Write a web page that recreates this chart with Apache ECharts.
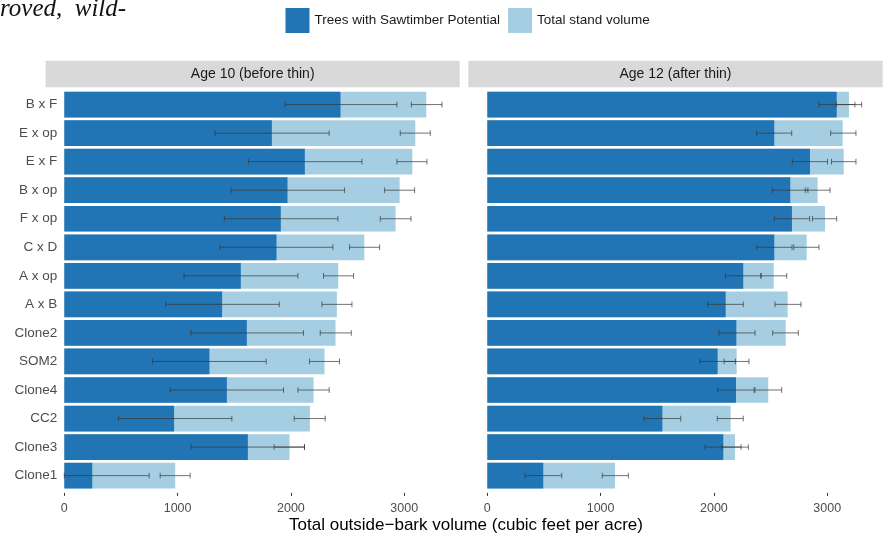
<!DOCTYPE html>
<html>
<head>
<meta charset="utf-8">
<script src="https://cdn.jsdelivr.net/npm/echarts@6/dist/echarts.min.js"></script>
<style>
  html, body { margin: 0; padding: 0; background: #fff; }
  #chart { width: 885px; height: 535px; }
</style>
</head>
<body>
<div id="chart"></div>
<script>
// Families, top to bottom
const categories = ['B x F', 'E x op', 'E x F', 'B x op', 'F x op', 'C x D', 'A x op', 'A x B',
  'Clone2', 'SOM2', 'Clone4', 'CC2', 'Clone3', 'Clone1'];

// Age 10 (before thin): sawtimber-potential volume with interval
const saw10 = [2438, 1832, 2123, 1970, 1911, 1873, 1558, 1393, 1611, 1281, 1435, 969, 1620, 247];
const saw10Low = [1950, 1331, 1625, 1472, 1413, 1375, 1057, 896, 1117, 778, 934, 477, 1119, 0];
const saw10High = [2936, 2338, 2627, 2474, 2415, 2371, 2062, 1897, 2111, 1782, 1935, 1479, 2120, 749];
// Age 10 total stand volume with interval
const total10 = [3195, 3098, 3072, 2960, 2924, 2648, 2418, 2406, 2394, 2297, 2200, 2168, 1988, 979];
const total10Low = [3063, 2965, 2936, 2827, 2789, 2518, 2288, 2274, 2259, 2164, 2062, 2029, 1852, 846];
const total10High = [3334, 3230, 3201, 3092, 3060, 2783, 2553, 2539, 2533, 2429, 2338, 2303, 2120, 1111];

// Age 12 (after thin)
const saw12 = [3084, 2533, 2848, 2674, 2689, 2533, 2259, 2104, 2198, 2033, 2195, 1545, 2083, 494];
const saw12Low = [2928, 2378, 2692, 2516, 2533, 2378, 2102, 1945, 2045, 1877, 2033, 1383, 1921, 333];
const saw12High = [3245, 2687, 3003, 2830, 2845, 2690, 2416, 2259, 2363, 2190, 2355, 1707, 2240, 657];
const total12 = [3192, 3137, 3146, 2916, 2981, 2819, 2528, 2651, 2634, 2201, 2480, 2148, 2186, 1127];
const total12Low = [3080, 3031, 3038, 2806, 2870, 2705, 2415, 2539, 2519, 2091, 2362, 2030, 2070, 1015];
const total12High = [3304, 3254, 3254, 3025, 3084, 2928, 2643, 2769, 2745, 2310, 2598, 2259, 2304, 1245];

const xTicks = [0, 1000, 2000, 3000];
const panelTitles = ['Age 10 (before thin)', 'Age 12 (after thin)'];
const sawName = 'Trees with Sawtimber Potential';
const totalName = 'Total stand volume';

const DARK = '#2175b4';
const LIGHT = '#a6cee3';
const ERR = 'rgba(55,55,55,0.7)';
const FONT = 'Liberation Sans, Arial, sans-serif';

// Panel geometry
const panels = [
  { left: 64.3, stripLeft: 45.7 },
  { left: 487.3, stripLeft: 468.3 }
];
const plotWidth = 395.4;
const plotTop = 90.3;
const plotHeight = 399.6;
const xMax = 3490;

function pairs(lo, hi) {
  return lo.map((v, i) => [v, hi[i], i]);
}

function errorBars(params, api) {
  const lo = api.coord([api.value(0), api.value(2)]);
  const hi = api.coord([api.value(1), api.value(2)]);
  const cap = api.size([0, 1])[1] * 0.2 / 2;
  const style = { stroke: ERR, lineWidth: 1, fill: null };
  return {
    type: 'group',
    children: [
      { type: 'line', shape: { x1: lo[0], y1: lo[1], x2: hi[0], y2: hi[1] }, style },
      { type: 'line', shape: { x1: lo[0], y1: lo[1] - cap, x2: lo[0], y2: lo[1] + cap }, style },
      { type: 'line', shape: { x1: hi[0], y1: hi[1] - cap, x2: hi[0], y2: hi[1] + cap }, style }
    ]
  };
}

const panelData = [
  { saw: saw10, sawLo: saw10Low, sawHi: saw10High, tot: total10, totLo: total10Low, totHi: total10High },
  { saw: saw12, sawLo: saw12Low, sawHi: saw12High, tot: total12, totLo: total12Low, totHi: total12High }
];

const grid = [], xAxis = [], yAxis = [], series = [];
const graphic = [
  {
    type: 'text',
    style: { text: 'roved,  wild-', x: 0, y: -3, font: 'italic 25px "Liberation Serif", "DejaVu Serif", serif', fill: '#111' }
  },
  {
    type: 'text',
    style: {
      text: 'Total outside\u2212bark volume (cubic feet per acre)',
      x: 466, y: 525, align: 'center', verticalAlign: 'middle',
      font: '17px ' + FONT, fill: '#000'
    }
  }
];

panels.forEach((p, k) => {
  grid.push({ left: p.left, top: plotTop, width: plotWidth, height: plotHeight, containLabel: false });
  xAxis.push({
    type: 'value', gridIndex: k, min: 0, max: xMax, offset: 3,
    axisLine: { show: false },
    splitLine: { show: false },
    axisTick: { show: true, customValues: xTicks, length: 3, lineStyle: { color: '#333', width: 1 } },
    axisLabel: {
      customValues: xTicks, fontSize: 12.5, color: '#4d4d4d', fontFamily: FONT, margin: 9,
      formatter: (v) => String(v)
    }
  });
  yAxis.push({
    type: 'category', gridIndex: k, data: categories, inverse: true,
    axisLine: { show: false }, axisTick: { show: false }, splitLine: { show: false },
    axisLabel: { show: k === 0, fontSize: 13.5, color: '#4d4d4d', fontFamily: FONT, margin: 7 }
  });
  const d = panelData[k];
  series.push({
    name: totalName, type: 'bar', xAxisIndex: k, yAxisIndex: k, data: d.tot,
    barWidth: '90%', itemStyle: { color: LIGHT }, z: 1
  });
  series.push({
    name: sawName, type: 'bar', xAxisIndex: k, yAxisIndex: k, data: d.saw,
    barWidth: '90%', barGap: '-100%', itemStyle: { color: DARK }, z: 2
  });
  series.push({
    type: 'custom', xAxisIndex: k, yAxisIndex: k, data: pairs(d.sawLo, d.sawHi),
    renderItem: errorBars, encode: { x: [0, 1], y: 2 }, z: 5, silent: true
  });
  series.push({
    type: 'custom', xAxisIndex: k, yAxisIndex: k, data: pairs(d.totLo, d.totHi),
    renderItem: errorBars, encode: { x: [0, 1], y: 2 }, z: 5, silent: true
  });
  // facet strip
  graphic.push({
    type: 'rect', z: -1,
    shape: { x: p.stripLeft, y: 60.7, width: p.left + plotWidth - p.stripLeft, height: 26.6 },
    style: { fill: '#d9d9d9' }
  });
  graphic.push({
    type: 'text', z: 0,
    style: {
      text: panelTitles[k], x: (p.stripLeft + p.left + plotWidth) / 2, y: 74,
      align: 'center', verticalAlign: 'middle', font: '14px ' + FONT, fill: '#1a1a1a'
    }
  });
});

const chart = echarts.init(document.getElementById('chart'), null, { renderer: 'canvas' });
chart.setOption({
  animation: false,
  backgroundColor: '#fff',
  legend: {
    data: [
      { name: sawName, itemStyle: { color: DARK } },
      { name: totalName, itemStyle: { color: LIGHT } }
    ],
    left: 285.5, top: 8, padding: 0, icon: 'rect', itemWidth: 24, itemHeight: 25, itemGap: 8,
    textStyle: { fontSize: 13.5, color: '#1a1a1a', fontFamily: FONT },
    selectedMode: false
  },
  grid, xAxis, yAxis, series, graphic
});
</script>
</body>
</html>
